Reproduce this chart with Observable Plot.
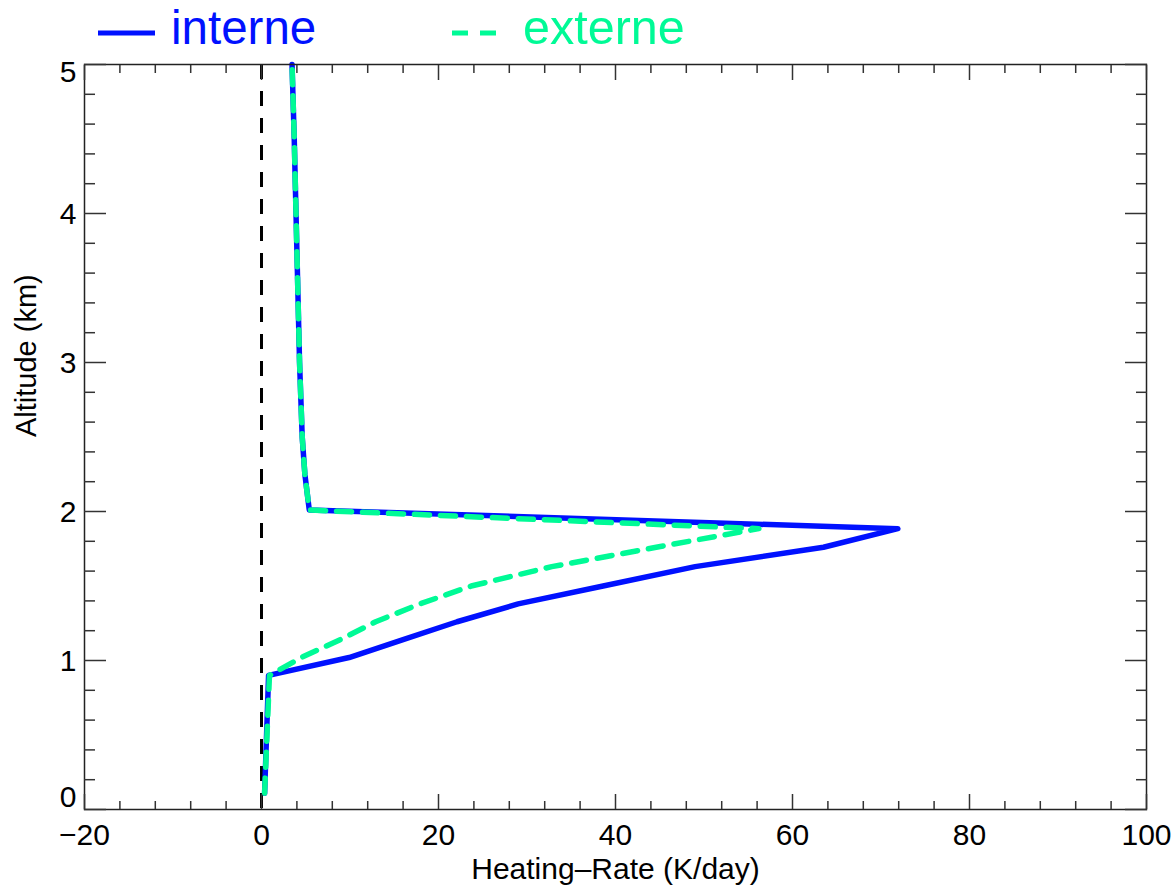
<!DOCTYPE html>
<html>
<head>
<meta charset="utf-8">
<script src="https://cdn.jsdelivr.net/npm/d3@7"></script>
<script src="https://cdn.jsdelivr.net/npm/@observablehq/plot@0.6"></script>
<style>
  html, body { margin: 0; padding: 0; background: #fff; }
  #legend { display: block; }
  #chart svg { display: block; }
</style>
</head>
<body>
<svg id="legend" width="1174" height="54" font-family="'Liberation Sans', Arial, Helvetica, sans-serif"></svg>
<div id="chart"></div>
<script>
// ---- data ----
const altitude = [0.11, 0.9, 1.02, 1.14, 1.26, 1.38, 1.50, 1.63, 1.76, 1.885, 2.01, 2.13, 2.25, 2.5, 3.0, 3.5, 4.0, 4.5, 5.0];
const interne  = [0.35, 0.8, 9.9, 16.0, 22.1, 29.0, 38.6, 49.0, 63.5, 71.9, 5.4, 5.15, 4.9, 4.6, 4.3, 4.1, 3.9, 3.7, 3.45];
const externe  = [0.35, 0.9, 4.5, 8.9, 12.9, 17.9, 23.7, 32.8, 44.6, 56.2, 5.4, 5.15, 4.9, 4.6, 4.3, 4.1, 3.9, 3.7, 3.45];

const seriesNames = ["interne", "externe"];
const seriesColors = ["#0011ff", "#00fa96"];

const xMajor = [-20, 0, 20, 40, 60, 80, 100];
const xMinor = d3.range(-20, 100.001, 4).filter(v => !xMajor.includes(v));
const yMajor = [0, 1, 2, 3, 4, 5];
const yMinor = d3.range(0, 5.001, 0.2).map(v => +v.toFixed(1)).filter(v => !yMajor.includes(v));

const xLabel = "Heating–Rate (K/day)";
const yLabel = "Altitude (km)";

const rowsI = altitude.map((a, i) => ({alt: a, hr: interne[i]}));
const rowsE = altitude.map((a, i) => ({alt: a, hr: externe[i]}));

// ---- legend (SVG above the plot) ----
const lg = d3.select("#legend");
lg.append("line").attr("x1", 98).attr("x2", 155).attr("y1", 33).attr("y2", 33)
  .attr("stroke", seriesColors[0]).attr("stroke-width", 5);
lg.append("text").attr("x", 171).attr("y", 44).attr("font-size", 47.5)
  .attr("fill", seriesColors[0]).text(seriesNames[0]);
lg.append("line").attr("x1", 452).attr("x2", 496).attr("y1", 33).attr("y2", 33)
  .attr("stroke", seriesColors[1]).attr("stroke-width", 5).attr("stroke-dasharray", "16,12");
lg.append("text").attr("x", 523).attr("y", 44).attr("font-size", 48.5)
  .attr("fill", seriesColors[1]).text(seriesNames[1]);

// ---- plot ----
const tickStroke = "#333";
const fmt = d => String(d).replace("-", "−");
const chart = Plot.plot({
  width: 1174,
  height: 832,
  marginTop: 10,
  marginBottom: 77,
  marginLeft: 84,
  marginRight: 28,
  style: {fontFamily: "'Liberation Sans', Arial, Helvetica, sans-serif", background: "white", color: "black"},
  x: {domain: [-20, 100]},
  y: {domain: [0, 5]},
  marks: [
    Plot.ruleX([0], {stroke: "black", strokeWidth: 3, strokeDasharray: "15,12"}),
    Plot.line(rowsI, {x: "hr", y: "alt", stroke: seriesColors[0], strokeWidth: 5.5}),
    Plot.line(rowsE, {x: "hr", y: "alt", stroke: seriesColors[1], strokeWidth: 5.5, strokeDasharray: "15,11"}),
    Plot.frame({stroke: "#222", strokeWidth: 1.5}),
    // inward ticks on all four sides
    Plot.axisX(xMajor, {anchor: "bottom", tickSize: -15, fill: "none", stroke: tickStroke, strokeWidth: 1.5, label: null}),
    Plot.axisX(xMinor, {anchor: "bottom", tickSize: -8, fill: "none", stroke: tickStroke, strokeWidth: 1.5, label: null}),
    Plot.axisX(xMajor, {anchor: "top", tickSize: -15, fill: "none", stroke: tickStroke, strokeWidth: 1.5, label: null}),
    Plot.axisX(xMinor, {anchor: "top", tickSize: -8, fill: "none", stroke: tickStroke, strokeWidth: 1.5, label: null}),
    Plot.axisY(yMajor, {anchor: "left", tickSize: -22, fill: "none", stroke: tickStroke, strokeWidth: 1.5, label: null}),
    Plot.axisY(yMinor, {anchor: "left", tickSize: -11, fill: "none", stroke: tickStroke, strokeWidth: 1.5, label: null}),
    Plot.axisY(yMajor, {anchor: "right", tickSize: -22, fill: "none", stroke: tickStroke, strokeWidth: 1.5, label: null}),
    Plot.axisY(yMinor, {anchor: "right", tickSize: -11, fill: "none", stroke: tickStroke, strokeWidth: 1.5, label: null}),
    // tick labels
    Plot.axisX(xMajor, {anchor: "bottom", tickSize: 0, tickPadding: 14, fontSize: 30, tickFormat: fmt, label: null}),
    Plot.axisY([1, 2, 3, 4], {anchor: "left", tickSize: 0, tickPadding: 8, fontSize: 30, dy: 1, tickFormat: fmt, label: null}),
    Plot.axisY([5], {anchor: "left", tickSize: 0, tickPadding: 8, fontSize: 30, dy: 8, tickFormat: fmt, label: null}),
    Plot.axisY([0], {anchor: "left", tickSize: 0, tickPadding: 8, fontSize: 30, dy: -12, tickFormat: fmt, label: null}),
    // axis titles
    Plot.text([xLabel], {text: d => d, frameAnchor: "bottom", lineAnchor: "bottom", dy: 69, fontSize: 30}),
    Plot.text([yLabel], {text: d => d, frameAnchor: "left", lineAnchor: "top", rotate: -90, dx: -69, fontSize: 29})
  ]
});
document.getElementById("chart").appendChild(chart);
</script>
</body>
</html>
